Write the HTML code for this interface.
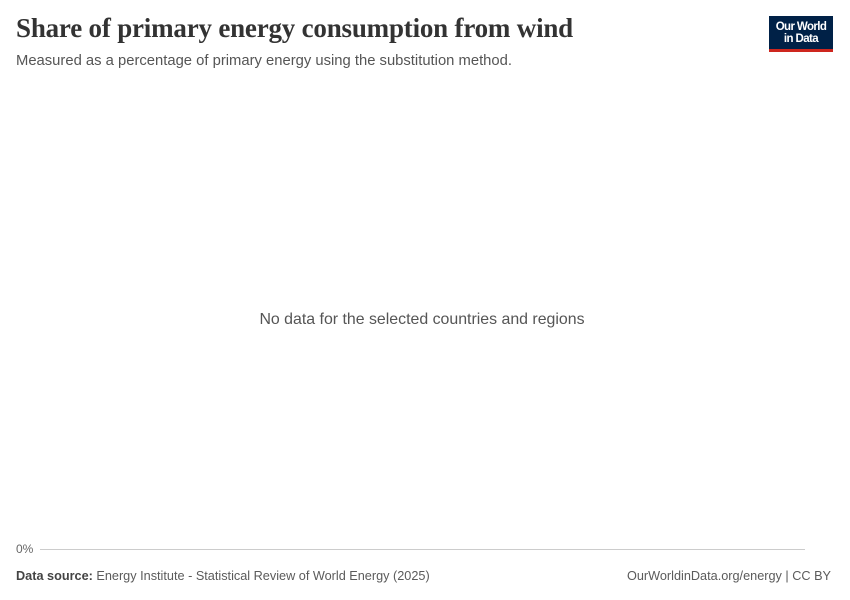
<!DOCTYPE html>
<html><head><meta charset="utf-8"><style>
body{margin:0;width:850px;height:600px;background:#fff;font-family:"Liberation Sans",sans-serif;position:relative;overflow:hidden}
.t{position:absolute;left:16px;top:13px;font-family:"Liberation Serif",serif;font-size:27px;font-weight:bold;color:#333;letter-spacing:-0.2px}
.s{position:absolute;left:16px;top:53px;font-size:14.8px;color:#555}
.logo{position:absolute;left:769px;top:16px;width:64px;height:36px;background:#002147;border-bottom:3px solid #ce261e;box-sizing:border-box;color:#fff;font-size:11.5px;font-weight:bold;line-height:12px;text-align:center;padding-top:5px;letter-spacing:-0.6px}
.nd{position:absolute;left:0;width:844px;top:311px;text-align:center;font-size:15.9px;color:#555}
.z{position:absolute;left:16px;top:542px;font-size:12px;color:#666}
.ln{position:absolute;left:40px;top:549px;width:765px;height:1px;background:#ccc}
.f{position:absolute;top:569px;font-size:12.7px;color:#5b5b5b}
</style></head><body>
<div class="t">Share of primary energy consumption from wind</div>
<div class="s">Measured as a percentage of primary energy using the substitution method.</div>
<div class="logo">Our World<br>in Data</div>
<div class="nd">No data for the selected countries and regions</div>
<div class="z">0%</div><div class="ln"></div>
<div class="f" style="left:16px"><b style="color:#444">Data source:</b> Energy Institute - Statistical Review of World Energy (2025)</div>
<div class="f" style="right:19px">OurWorldinData.org/energy | CC BY</div>
</body></html>
